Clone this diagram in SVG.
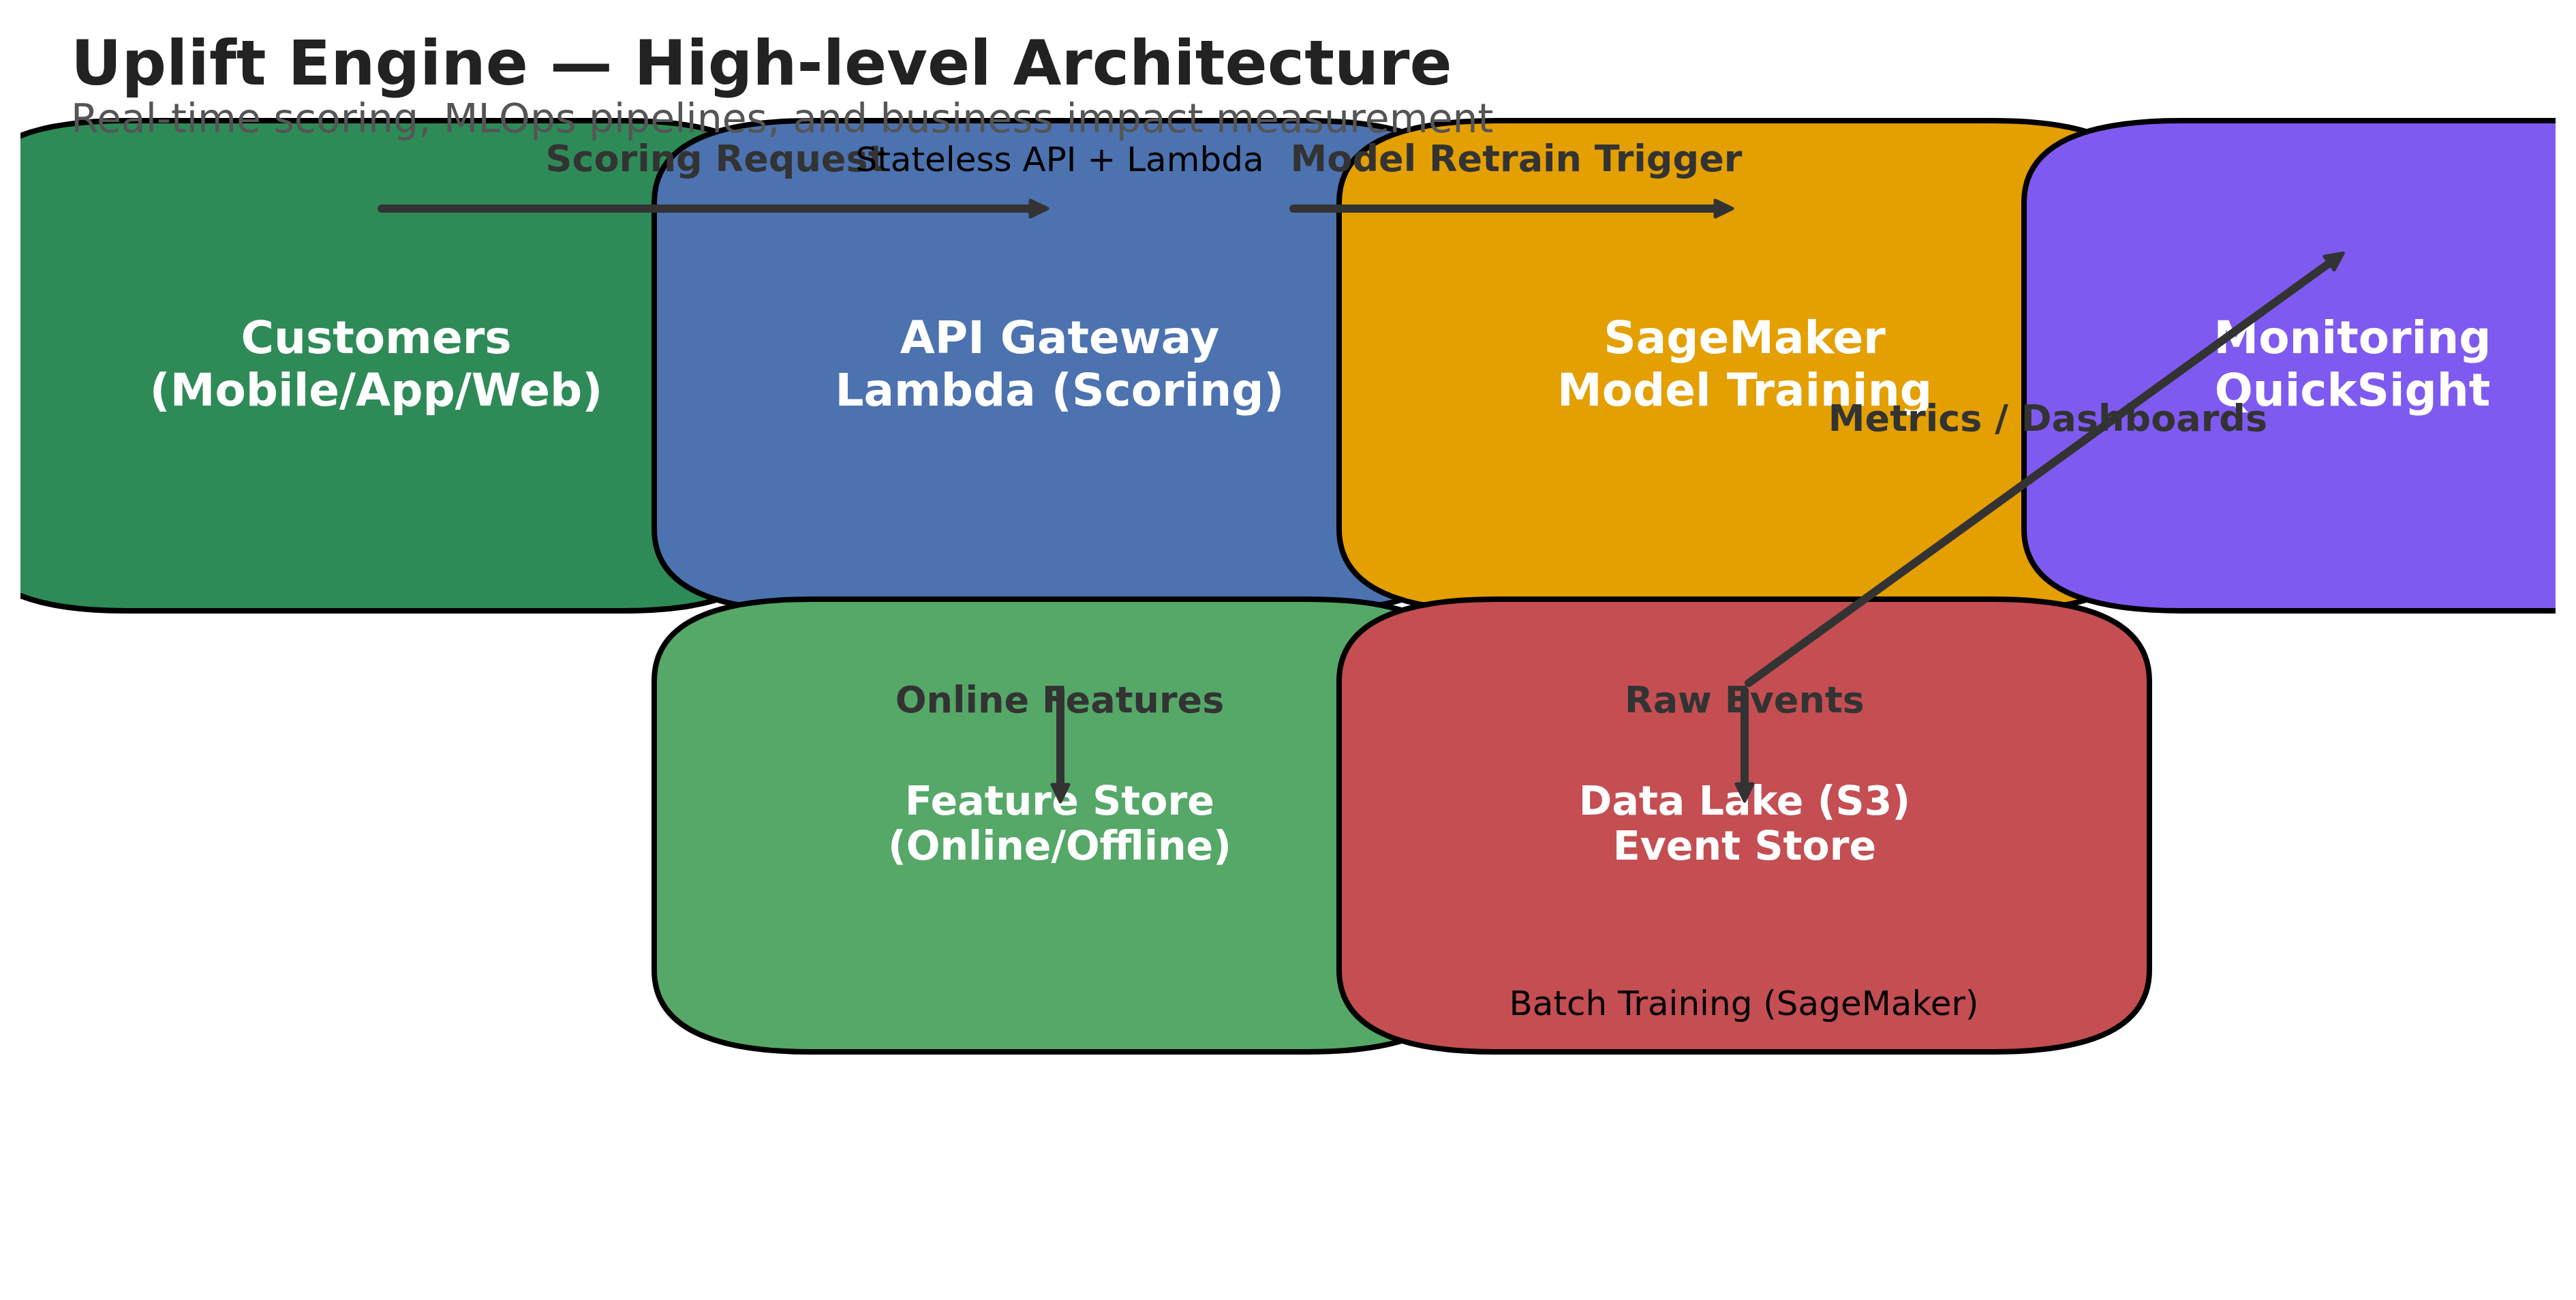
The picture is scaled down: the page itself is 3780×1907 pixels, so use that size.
<svg xmlns="http://www.w3.org/2000/svg" width="3780" height="1907" viewBox="0 0 3780 1907">
<style>
.box{stroke:#000;stroke-width:8;stroke-linejoin:round}
.nl{font-family:"DejaVu Sans","Liberation Sans",sans-serif;font-weight:bold;fill:#fff;text-anchor:middle}
.big{font-size:66px}
.small{font-size:58.5px}
.el{font-family:"DejaVu Sans","Liberation Sans",sans-serif;font-weight:bold;font-size:54px;fill:#333;text-anchor:middle}
.note{font-family:"DejaVu Sans","Liberation Sans",sans-serif;font-size:50px;fill:#000;text-anchor:middle}
.conn{stroke:#333;stroke-width:12;stroke-linecap:round;fill:none;marker-end:url(#ah)}
</style>
<defs>
<clipPath id="ax"><rect x="30" y="0" width="3720" height="1907"/></clipPath>
<marker id="ah" markerUnits="userSpaceOnUse" viewBox="-10 -20 50 40" markerWidth="50" markerHeight="40" refX="0" refY="0" orient="auto" overflow="visible">
<path d="M0,-12 L25,0 L0,12 Z" fill="#333" stroke="#333" stroke-width="5" stroke-linejoin="round"/>
</marker>
</defs>
<rect width="3780" height="1907" fill="#fff"/>
<g clip-path="url(#ax)">
<g id="customers"><path class="box" fill="#2E8B57" d="M185,177 H914 Q1144,177 1144,297 V776 Q1144,896 914,896 H185 Q-45,896 -45,776 V297 Q-45,177 185,177 Z"/></g>
<g id="api"><path class="box" fill="#4C72B0" d="M1190,177 H1919 Q2149,177 2149,297 V776 Q2149,896 1919,896 H1190 Q960,896 960,776 V297 Q960,177 1190,177 Z"/></g>
<g id="sagemaker"><path class="box" fill="#E49F00" d="M2195,177 H2924 Q3154,177 3154,297 V776 Q3154,896 2924,896 H2195 Q1965,896 1965,776 V297 Q1965,177 2195,177 Z"/></g>
<g id="monitoring"><path class="box" fill="#7F5AF0" d="M3200,177 H3929 Q4159,177 4159,297 V776 Q4159,896 3929,896 H3200 Q2970,896 2970,776 V297 Q2970,177 3200,177 Z"/></g>
<g id="featurestore"><path class="box" fill="#55A868" d="M1190,879 H1919 Q2149,879 2149,999 V1423 Q2149,1543 1919,1543 H1190 Q960,1543 960,1423 V999 Q960,879 1190,879 Z"/></g>
<g id="datalake"><path class="box" fill="#C44E52" d="M2195,879 H2924 Q3154,879 3154,999 V1423 Q3154,1543 2924,1543 H2195 Q1965,1543 1965,1423 V999 Q1965,879 2195,879 Z"/></g>
</g>
<g id="labels">
<text class="nl big" x="552" y="518">Customers</text>
<text class="nl big" x="552" y="595">(Mobile/App/Web)</text>
<text class="nl big" x="1555" y="518">API Gateway</text>
<text class="nl big" x="1555" y="595">Lambda (Scoring)</text>
<text class="nl big" x="2560" y="518">SageMaker</text>
<text class="nl big" x="2560" y="595">Model Training</text>
<text class="nl big" x="3452" y="518">Monitoring</text>
<text class="nl big" x="3452" y="595">QuickSight</text>
<text class="nl small" x="1555" y="1195">Feature Store</text>
<text class="nl small" x="1555" y="1261">(Online/Offline)</text>
<text class="nl small" x="2560" y="1195">Data Lake (S3)</text>
<text class="nl small" x="2560" y="1261">Event Store</text>
<text class="note" x="2559" y="1489">Batch Training (SageMaker)</text>
</g>
<g id="connectors">
<line class="conn" x1="560" y1="306" x2="1512" y2="306"/>
<line class="conn" x1="1898" y1="306" x2="2517" y2="306"/>
<line class="conn" x1="1556" y1="1013" x2="1556" y2="1151"/>
<line class="conn" x1="2560" y1="1013" x2="2560" y2="1150"/>
<line class="conn" x1="2566" y1="1002" x2="3418" y2="386"/>
<text class="el" x="1050" y="251">Scoring Request</text>
<text class="el" x="2225" y="251">Model Retrain Trigger</text>
<text class="el" x="1555" y="1045">Online Features</text>
<text class="el" x="2560" y="1045">Raw Events</text>
<text class="el" x="3005" y="632">Metrics / Dashboards</text>
<text class="note" x="1555" y="251">Stateless API + Lambda</text>
</g>
<g id="title">
<text x="104" y="124" font-family="DejaVu Sans, Liberation Sans, sans-serif" font-weight="bold" font-size="91.7" fill="#222">Uplift Engine — High-level Architecture</text>
<text x="104" y="194" font-family="DejaVu Sans, Liberation Sans, sans-serif" font-size="58.4" fill="#555">Real-time scoring, MLOps pipelines, and business impact measurement</text>
</g>
</svg>
